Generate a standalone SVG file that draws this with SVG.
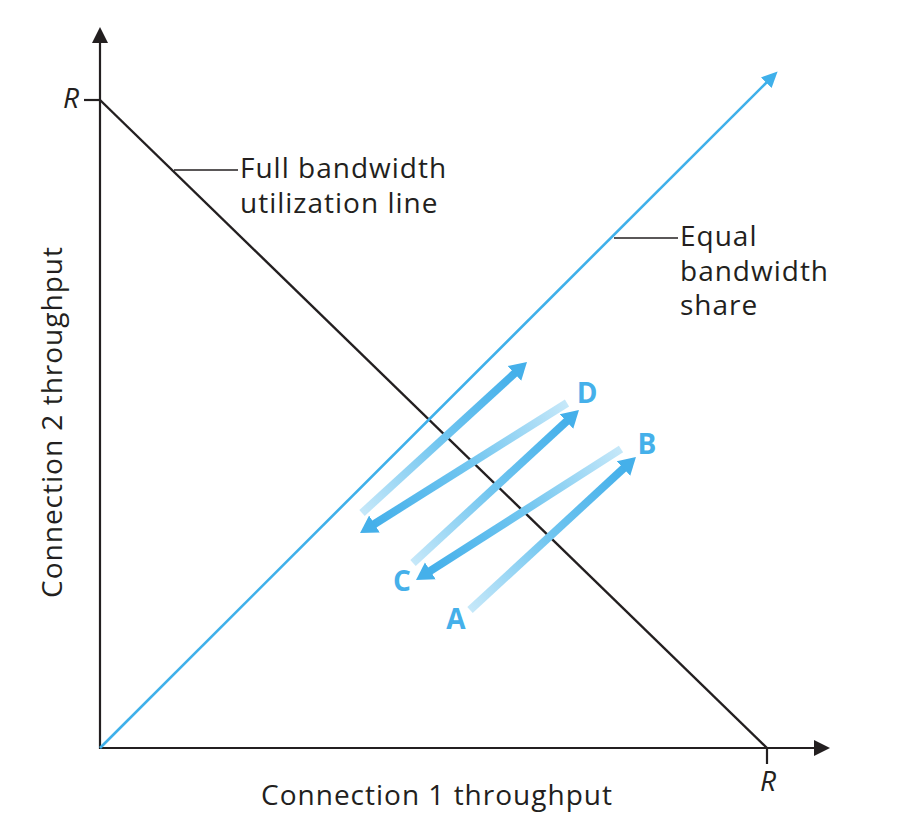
<svg xmlns="http://www.w3.org/2000/svg" width="910" height="827" viewBox="0 0 910 827">
<style>
.ax{stroke:#231f20;stroke-width:2.2;fill:none}
.lead{stroke:#231f20;stroke-width:1.3;fill:none}
.t{font-family:"Open Sans","Noto Sans","Liberation Sans",sans-serif;font-size:28px;letter-spacing:1px;fill:#231f20}
.r{font-family:"Open Sans","Noto Sans","Liberation Sans",sans-serif;font-size:28px;font-style:italic;fill:#231f20}
.lb{font-family:"Open Sans","Noto Sans","Liberation Sans",sans-serif;font-size:28px;font-weight:bold;fill:#45b0ea}
.arr{stroke-width:8;fill:none;marker-end:url(#ah)}
</style>
<defs>
<marker id="ah" markerUnits="userSpaceOnUse" markerWidth="20" markerHeight="24" viewBox="0 -12 20 24" refX="1" refY="0" orient="auto">
<path d="M0,-10 L17,0 L0,10 z" fill="#45b0ea"/>
</marker>
<marker id="ahs" markerUnits="userSpaceOnUse" markerWidth="18" markerHeight="18" viewBox="0 -9 18 18" refX="1" refY="0" orient="auto">
<path d="M0,-7.5 L16,0 L0,7.5 z" fill="#3fb0ea"/>
</marker>
<linearGradient id="g1" gradientUnits="userSpaceOnUse" x1="470" y1="610" x2="624" y2="468"><stop offset="0" stop-color="#c6e8f9"/><stop offset="0.5" stop-color="#72c6f0"/><stop offset="1" stop-color="#45b0ea"/></linearGradient>
<linearGradient id="g2" gradientUnits="userSpaceOnUse" x1="621" y1="449" x2="430" y2="571"><stop offset="0" stop-color="#c6e8f9"/><stop offset="0.5" stop-color="#72c6f0"/><stop offset="1" stop-color="#45b0ea"/></linearGradient>
<linearGradient id="g3" gradientUnits="userSpaceOnUse" x1="413" y1="563" x2="567" y2="421"><stop offset="0" stop-color="#c6e8f9"/><stop offset="0.5" stop-color="#72c6f0"/><stop offset="1" stop-color="#45b0ea"/></linearGradient>
<linearGradient id="g4" gradientUnits="userSpaceOnUse" x1="567" y1="403" x2="374" y2="525"><stop offset="0" stop-color="#c6e8f9"/><stop offset="0.5" stop-color="#72c6f0"/><stop offset="1" stop-color="#45b0ea"/></linearGradient>
<linearGradient id="g5" gradientUnits="userSpaceOnUse" x1="362" y1="513" x2="515" y2="373"><stop offset="0" stop-color="#c6e8f9"/><stop offset="0.5" stop-color="#72c6f0"/><stop offset="1" stop-color="#45b0ea"/></linearGradient>
</defs>
<rect width="910" height="827" fill="#ffffff"/>
<g id="axes">
<line class="ax" x1="100" y1="749" x2="100" y2="42"/>
<polygon points="100,27 92,43 108,43" fill="#231f20"/>
<line class="ax" x1="99" y1="748" x2="814" y2="748"/>
<polygon points="830,748 814,740 814,756" fill="#231f20"/>
<line class="ax" x1="84" y1="100" x2="100" y2="100"/>
<line class="ax" x1="767" y1="748" x2="767" y2="764"/>
<text class="r" x="79" y="108" text-anchor="end">R</text>
<text class="r" x="768" y="791" text-anchor="middle">R</text>
<text class="t" x="437" y="805" text-anchor="middle">Connection 1 throughput</text>
<text class="t" transform="translate(62,422) rotate(-90)" text-anchor="middle">Connection 2 throughput</text>
</g>
<g id="full-line">
<line x1="100" y1="100" x2="767" y2="748" stroke="#231f20" stroke-width="2.4"/>
<line class="lead" x1="174" y1="170" x2="238" y2="170"/>
<text class="t" x="240" y="178">Full bandwidth</text>
<text class="t" x="240" y="213">utilization line</text>
</g>
<g id="equal-line">
<line x1="100" y1="748" x2="767" y2="82" stroke="#3fb0ea" stroke-width="2.6" marker-end="url(#ahs)"/>
<line class="lead" x1="614" y1="238" x2="678" y2="238"/>
<text class="t" x="680" y="246">Equal</text>
<text class="t" x="680" y="281">bandwidth</text>
<text class="t" x="680" y="315">share</text>
</g>
<g id="connectors">
<line class="arr" x1="470" y1="610" x2="624.2" y2="467.8" stroke="url(#g1)"/>
<line class="arr" x1="621" y1="449" x2="429.5" y2="571.4" stroke="url(#g2)"/>
<line class="arr" x1="413" y1="563" x2="567.2" y2="420.8" stroke="url(#g3)"/>
<line class="arr" x1="567" y1="403" x2="373.6" y2="524.5" stroke="url(#g4)"/>
<line class="arr" x1="362" y1="513" x2="515.2" y2="372.8" stroke="url(#g5)"/>
</g>
<g id="point-A"><text class="lb" x="456" y="629" text-anchor="middle">A</text></g>
<g id="point-B"><text class="lb" x="647" y="454" text-anchor="middle">B</text></g>
<g id="point-C"><text class="lb" x="402" y="591" text-anchor="middle">C</text></g>
<g id="point-D"><text class="lb" x="587" y="403" text-anchor="middle">D</text></g>
</svg>
